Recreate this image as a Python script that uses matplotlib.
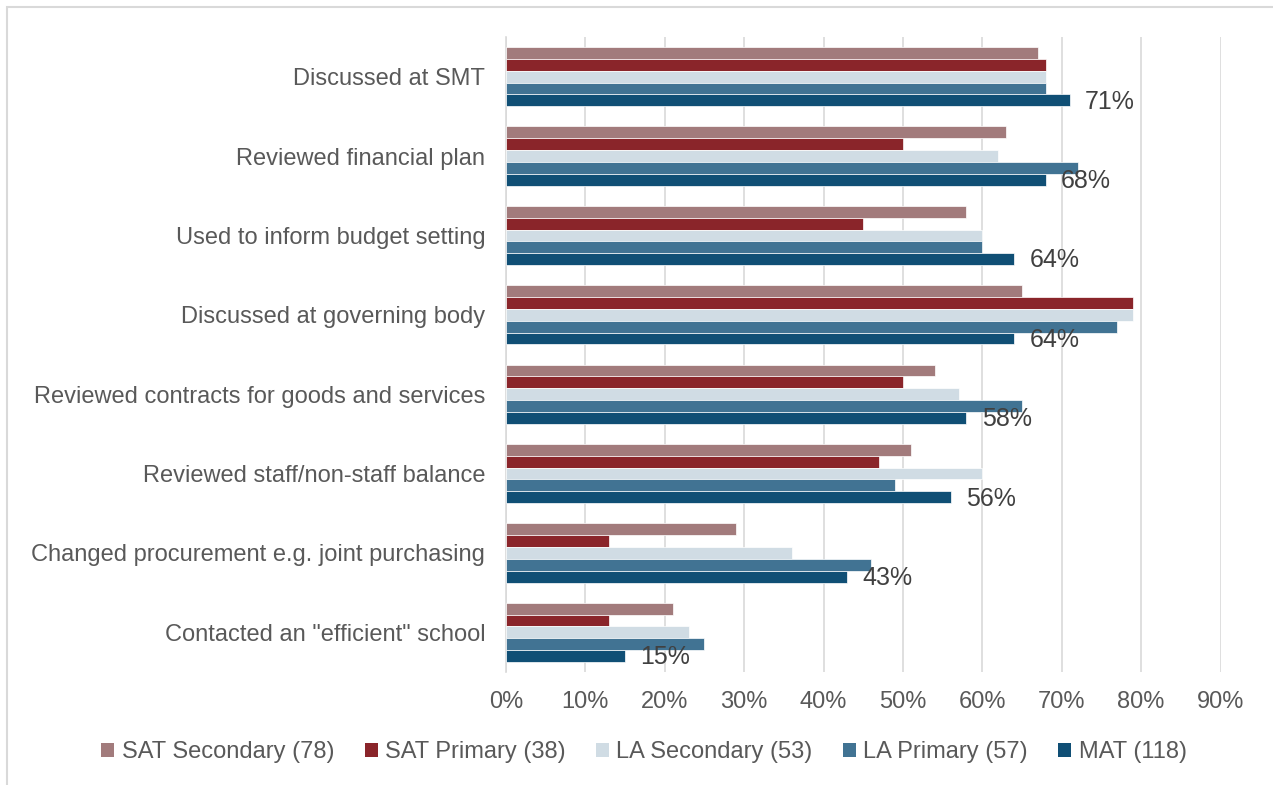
import numpy as np
import matplotlib
matplotlib.use('Agg')
import matplotlib.pyplot as plt
from matplotlib.patches import Rectangle, Patch
from matplotlib.ticker import MultipleLocator, FuncFormatter

plt.rcParams['font.family'] = ['Liberation Sans', 'DejaVu Sans']

categories = [
    'Discussed at SMT',
    'Reviewed financial plan',
    'Used to inform budget setting',
    'Discussed at governing body',
    'Reviewed contracts for goods and services',
    'Reviewed staff/non-staff balance',
    'Changed procurement e.g. joint purchasing',
    'Contacted an "efficient" school',
]
series_names = ['SAT Secondary (78)', 'SAT Primary (38)', 'LA Secondary (53)',
                'LA Primary (57)', 'MAT (118)']
sat_secondary = [67, 63, 58, 65, 54, 51, 29, 21]
sat_primary = [68, 50, 45, 79, 50, 47, 13, 13]
la_secondary = [68, 62, 60, 79, 57, 60, 36, 23]
la_primary = [68, 72, 60, 77, 65, 49, 46, 25]
mat = [71, 68, 64, 64, 58, 56, 43, 15]
colors = ['#A27B7C', '#8A252A', '#D0DCE4', '#417393', '#104F75']

series = [sat_secondary, sat_primary, la_secondary, la_primary, mat]

fig = plt.figure(figsize=(12.73, 7.85), dpi=100)
W, H = 1273, 785
ax = fig.add_axes([506 / W, 1 - 672 / H, (1220.5 - 506) / W, (672 - 37) / H])

y = np.arange(len(categories))
h = 0.149
for j, vals in enumerate(series):
    ax.barh(y + (j - 2) * h, vals, height=h, color=colors[j],
            edgecolor='white', linewidth=0.5, zorder=3)

# value labels on the MAT bars only
for i, v in enumerate(mat):
    ax.annotate('%d%%' % v, xy=(v, y[i] + 2 * h), xytext=(11, -1),
                textcoords='offset points', ha='left', va='center',
                fontsize=18, color='#404040', zorder=4)

ax.set_xlim(0, 90)
ax.set_ylim(len(categories) - 0.5, -0.5)
ax.xaxis.set_major_locator(MultipleLocator(10))
ax.xaxis.set_major_formatter(FuncFormatter(lambda x, p: '%d%%' % round(x)))
ax.set_yticks(y)
ax.set_yticklabels(categories)
ax.tick_params(axis='both', length=0, labelsize=17, labelcolor='#595959')
ax.tick_params(axis='x', pad=14)
ax.tick_params(axis='y', pad=15)
ax.grid(axis='x', color='#D9D9D9', linewidth=1.2, zorder=0)
for s in ['top', 'right', 'bottom']:
    ax.spines[s].set_visible(False)
ax.spines['left'].set_color('#D9D9D9')
ax.spines['left'].set_linewidth(1.2)

handles = [Patch(facecolor=c, edgecolor='none') for c in colors]
fig.legend(handles, series_names, loc='center', bbox_to_anchor=(644 / W, 1 - 752 / H),
           ncol=5, frameon=False, fontsize=17, labelcolor='#595959',
           handlelength=0.55, handleheight=0.55, handletextpad=0.3, columnspacing=1.3)

fig.patches.append(Rectangle((7 / W, -0.05), 1.1, 1 - 7 / H + 0.05,
                             transform=fig.transFigure, fill=False,
                             edgecolor='#D9D9D9', linewidth=1.5))

fig.savefig('out.png', dpi=100, facecolor='white')
